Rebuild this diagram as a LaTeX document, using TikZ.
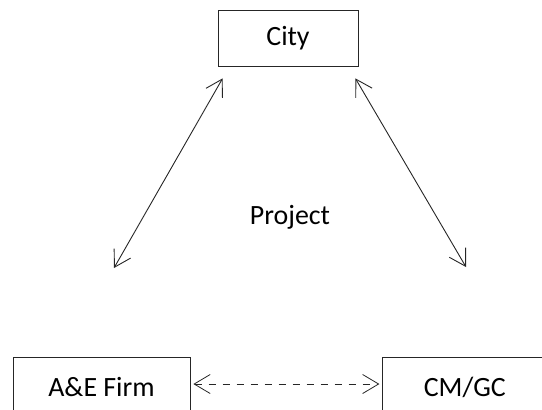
\documentclass[tikz,border=0pt]{standalone}
\usepackage{fontspec}
\setmainfont{Carlito}
\usetikzlibrary{arrows.meta, positioning}
\tikzset{
    party/.style={draw=black!85, line width=0.8bp, rectangle, inner sep=0pt,
      font=\fontsize{28}{32}\selectfont},
    link/.style={draw=black!85, line width=0.9bp,
      {Straight Barb[length=16bp, width=19bp]}-{Straight Barb[length=16bp, width=19bp]}},
    hint/.style={font=\fontsize{28}{32}\selectfont},
}
\begin{document}
\begin{tikzpicture}[x=1bp, y=1bp]
    \useasboundingbox (0,0) rectangle (542,-409);
    \clip (0,0) rectangle (542,-409);

    \node[party, minimum width=140bp, minimum height=56bp] (city) at (288,-38) {City};
    \node[hint] (proj) at (290,-217) {Project};

    \node[party, minimum width=177bp, minimum height=60bp] (ae) at (101.5,-387) {A\&E Firm};
    \node[party, minimum width=164bp, minimum height=60bp, right=192bp of ae] (cm) {CM/GC};

    \coordinate (aeend) at (114,-268);
    \coordinate (cmend) at (466,-267);

    \draw[link] ([xshift=5bp, yshift=-12bp]city.south west) -- (aeend);
    \draw[link] ([xshift=-3bp, yshift=-12bp]city.south east) -- (cmend);
    \draw[link, line width=0.8bp, dash pattern=on 7bp off 7bp, shorten <=3bp, shorten >=3bp]
      ([yshift=3bp]ae.east) -- ([yshift=3bp]cm.west);
\end{tikzpicture}
\end{document}
